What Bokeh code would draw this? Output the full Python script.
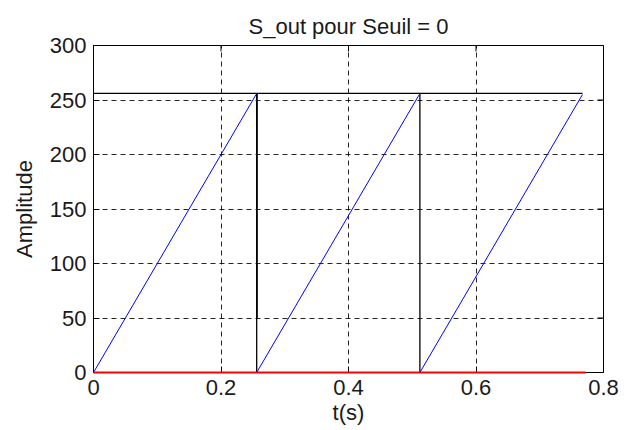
import numpy as np
from bokeh.plotting import figure
from bokeh.models import Range1d, FixedTicker
from bokeh.embed import file_html
from bokeh.resources import INLINE

# ---- data ----
title_text = "S_out pour Seuil = 0"
x_ticks = [0, 0.2, 0.4, 0.6, 0.8]
y_ticks = [0, 50, 100, 150, 200, 250, 300]

# blue sawtooth (ramp segments, NaN breaks between periods)
blue_t = [0.0, 0.255, np.nan, 0.256, 0.511, np.nan, 0.512, 0.767]
blue_y = [0, 255, np.nan, 0, 255, np.nan, 0, 255]

# black signal: holds at 256, drops at the period boundaries
black_t = [0.0, 0.256, 0.256, 0.256, 0.512, 0.512, 0.512, 0.767]
black_y = [256, 256, 0, 256, 256, 0, 256, 256]
# doubled stroke seen on the first drop
black2_t = [0.2565, 0.2565]
black2_y = [50, 256]

# red signal at zero
red_t = [0.0, 0.772]
red_y = [0, 0]

FONT = "Liberation Sans"
FS = "22px"
TXT = "#1a1a1a"

p = figure(width=633, height=430, output_backend="svg", toolbar_location=None,
           x_range=Range1d(0, 0.8), y_range=Range1d(0, 300),
           min_border_left=93, min_border_right=30, min_border_top=45,
           min_border_bottom=58)

p.title.text = title_text
p.title.text_font = FONT
p.title.text_font_size = FS
p.title.text_font_style = "normal"
p.title.align = "center"
p.title.text_color = TXT
p.title.standoff = 13

p.outline_line_color = "black"
p.outline_line_width = 1
p.background_fill_color = "white"
p.border_fill_color = "white"

for ax, ticks in ((p.xaxis[0], x_ticks), (p.yaxis[0], y_ticks)):
    ax.ticker = FixedTicker(ticks=ticks)
    ax.major_tick_in = 6
    ax.major_tick_out = 0
    ax.minor_tick_line_color = None
    ax.axis_line_color = "black"
    ax.major_tick_line_color = "black"
    ax.major_label_text_font = FONT
    ax.major_label_text_font_size = FS
    ax.major_label_text_color = TXT
    ax.axis_label_text_font = FONT
    ax.axis_label_text_font_size = FS
    ax.axis_label_text_font_style = "normal"
    ax.axis_label_text_color = TXT

p.xaxis[0].major_label_standoff = 7
p.yaxis[0].major_label_standoff = 7
p.xaxis[0].axis_label = "t(s)"
p.yaxis[0].axis_label = "Amplitude"
p.xaxis[0].axis_label_standoff = 2
p.yaxis[0].axis_label_standoff = 10

for g in (p.xgrid[0], p.ygrid[0]):
    g.grid_line_color = "black"
    g.grid_line_dash = "5 4"
    g.grid_line_width = 1
    g.grid_line_alpha = 0.85
p.xgrid[0].ticker = FixedTicker(ticks=x_ticks)
p.ygrid[0].ticker = FixedTicker(ticks=y_ticks)

# mirrored tick marks on the top and right edges (MATLAB box style)
p.scatter(x_ticks, [y_ticks[-1]] * len(x_ticks), marker="dash", angle=np.pi / 2,
          size=12, line_color="black", line_width=1)
p.scatter([x_ticks[-1]] * len(y_ticks), y_ticks, marker="dash",
          size=12, line_color="black", line_width=1)

p.line(black_t, black_y, line_color="black", line_width=1.3)
p.line(black2_t, black2_y, line_color="black", line_width=1.5)
p.line(blue_t, blue_y, line_color="#0000ff", line_width=1)
p.line(red_t, red_y, line_color="#ff0000", line_width=2, level="overlay")

open("out.html", "w").write(file_html(p, INLINE))
